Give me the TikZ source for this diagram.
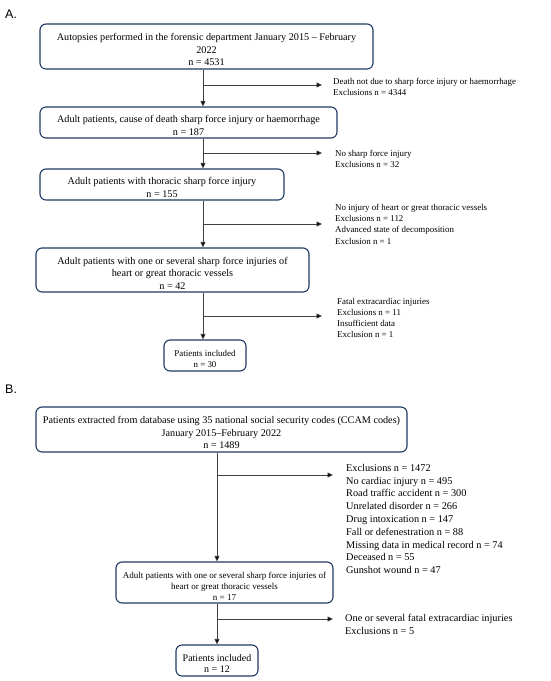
\documentclass[tikz,border=0pt]{standalone}
\usepackage{fontspec}
\setmainfont{Liberation Serif}
\newfontfamily\labelfont{Liberation Sans}
\usetikzlibrary{arrows.meta}
\definecolor{boxblue}{HTML}{1F3864}
\definecolor{linegray}{HTML}{404040}
\newcommand\bxstrut{\rule{0pt}{13.2pt}}
\tikzset{
  fbox/.style={draw=boxblue, line width=1.1pt, rounded corners=6pt, align=center, inner sep=0pt, font=\fontsize{10.2}{12.5}\selectfont},
  smallbox/.style={fbox, font=\fontsize{9}{11}\selectfont},
  tinybox/.style={fbox, font=\fontsize{8.9}{11}\selectfont},
  incbox/.style={fbox, font=\fontsize{10}{10.5}\selectfont},
  flow/.style={draw=linegray, line width=0.8pt, -{Triangle[length=5.5pt,width=5pt,fill=black]}},
  excl/.style={anchor=north west, align=left, inner sep=0pt, font=\fontsize{8.9}{11.2}\selectfont},
  exclB/.style={anchor=north west, align=left, inner sep=0pt, font=\fontsize{10.3}{12.8}\selectfont},
  panel/.style={anchor=base west, inner sep=0pt, font=\labelfont\fontsize{12.5}{14}\selectfont}
}
\begin{document}
\begin{tikzpicture}[x=1pt,y=-1pt]
\useasboundingbox (0,0) rectangle (550,681);
\node[panel] (lA) at (5,18) {A.};
\node[panel] (lB) at (5,393) {B.};
% Panel A boxes
\node[fbox, minimum width=333pt, minimum height=45pt] (a1) at (206.5,46.5) {\bxstrut Autopsies performed in the forensic department January 2015 -- February\\2022\\n = 4531};
\node[fbox, minimum width=297pt, minimum height=31pt] (a2) at (188.5,122.5) {\bxstrut Adult patients, cause of death sharp force injury or haemorrhage\\n = 187};
\node[fbox, minimum width=244pt, minimum height=31pt] (a3) at (162,184.5) {\bxstrut Adult patients with thoracic sharp force injury\\n = 155};
\node[fbox, minimum width=273pt, minimum height=44pt] (a4) at (172.5,270) {\bxstrut Adult patients with one or several sharp force injuries of\\heart or great thoracic vessels\\n = 42};
\node[tinybox, minimum width=82pt, minimum height=31pt] (a5) at (205,355.5) {\bxstrut Patients included\\n = 30};
\coordinate (axA) at (203,0);
\coordinate (b1) at (203,85); \coordinate (e1) at (322,85);
\coordinate (b2) at (203,153); \coordinate (e2) at (322,153);
\coordinate (b3) at (203,224); \coordinate (e3) at (322,224);
\coordinate (b4) at (203,316); \coordinate (e4) at (322,316);
\draw[flow] (a1.south -| axA) -- (a2.north -| axA);
\draw[flow] (a2.south -| axA) -- (a3.north -| axA);
\draw[flow] (a3.south -| axA) -- (a4.north -| axA);
\draw[flow] (a4.south -| axA) -- (a5.north -| axA);
\draw[flow] (b1) -- (e1);
\draw[flow] (b2) -- (e2);
\draw[flow] (b3) -- (e3);
\draw[flow] (b4) -- (e4);
\node[excl] (x1) at (333,78) {Death not due to sharp force injury or haemorrhage\\Exclusions n = 4344};
\node[excl] (x2) at (335,150) {No sharp force injury\\Exclusions n = 32};
\node[excl] (x3) at (335,204) {No injury of heart or great thoracic vessels\\Exclusions n = 112\\Advanced state of decomposition\\Exclusion n = 1};
\node[excl] (x4) at (337,298) {Fatal extracardiac injuries\\Exclusions n = 11\\Insufficient data\\Exclusion n = 1};
% Panel B
\node[fbox, minimum width=371pt, minimum height=45pt] (c1) at (221.5,429.5) {\bxstrut Patients extracted from database using 35 national social security codes (CCAM codes)\\January 2015--February 2022\\n = 1489};
\node[smallbox, minimum width=217pt, minimum height=41pt] (c2) at (224.5,582.5) {\bxstrut Adult patients with one or several sharp force injuries of\\heart or great thoracic vessels\\n = 17};
\node[incbox, minimum width=82pt, minimum height=31pt] (c3) at (217,660.5) {\bxstrut Patients included\\n = 12};
\coordinate (axB) at (217,0);
\coordinate (d1) at (217,475); \coordinate (f1) at (333,475);
\coordinate (d2) at (217,619); \coordinate (f2) at (333,619);
\draw[flow] (c1.south -| axB) -- (c2.north -| axB);
\draw[flow] (c2.south -| axB) -- (c3.north -| axB);
\draw[flow] (d1) -- (f1);
\draw[flow] (d2) -- (f2);
\node[exclB] (y1) at (346,464) {Exclusions n = 1472\\No cardiac injury n = 495\\Road traffic accident n = 300\\Unrelated disorder n = 266\\Drug intoxication n = 147\\Fall or defenestration n = 88\\Missing data in medical record n = 74\\Deceased n = 55\\Gunshot wound n = 47};
\node[exclB] (y2) at (345,614) {One or several fatal extracardiac injuries\\Exclusions n = 5};
\end{tikzpicture}
\end{document}
